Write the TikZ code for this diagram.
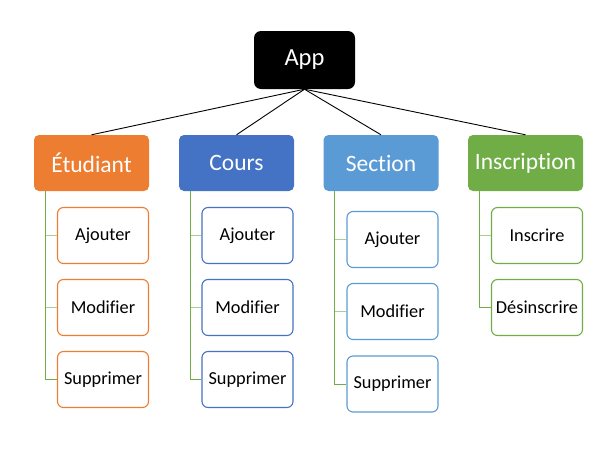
\documentclass[tikz,border=0pt]{standalone}
\usepackage{fontspec}
\setmainfont[Ligatures=NoCommon]{Carlito}
\usetikzlibrary{calc}
\definecolor{orangeC}{HTML}{ED7D31}
\definecolor{blueC}{HTML}{4472C4}
\definecolor{lblueC}{HTML}{5B9BD5}
\definecolor{greenC}{HTML}{70AD47}
\definecolor{lgreenC}{HTML}{A9D18E}
\tikzset{
  parentbox/.style={rounded corners=5pt, minimum width=115pt, minimum height=56pt, inner sep=0pt, text=white, font=\fontsize{23.5}{27}\selectfont},
  childbox/.style={rounded corners=6pt, fill=white, line width=1.1pt, minimum width=91pt, minimum height=56pt, inner sep=0pt, text=black, font=\fontsize{18.3}{22}\selectfont},
  topline/.style={draw=black, line width=0.9pt},
  vline/.style={draw=greenC, line width=1pt},
  tick/.style={draw=lgreenC, line width=1pt}
}
\begin{document}
\begin{tikzpicture}[x=1pt,y=-1pt]
\useasboundingbox (0,0) rectangle (608,448);
% root
\node[parentbox, fill=black, minimum width=101pt, minimum height=58pt, rounded corners=7pt, font=\fontsize{24.5}{28}\selectfont] (app) at (304.5,60) {App};
% parents
\node[parentbox, fill=orangeC] (etu) at (91.5,163) {Étudiant};
\node[parentbox, fill=blueC] (cou) at (236.5,163) {Cours};
\node[parentbox, fill=lblueC] (sec) at (381,163) {Section};
\node[parentbox, fill=greenC] (ins) at (525.5,163) {Inscription};
% connectors from root
\foreach \p in {etu,cou,sec,ins} \draw[topline] (app.south) -- (\p.north);
% children Etudiant
\node[childbox, draw=orangeC] (etu1) at (103,235.5) {Ajouter};
\node[childbox, draw=orangeC] (etu2) at (103,307.5) {Modifier};
\node[childbox, draw=orangeC] (etu3) at (103,379.5) {Supprimer};
% children Cours
\node[childbox, draw=blueC] (cou1) at (247.5,235.5) {Ajouter};
\node[childbox, draw=blueC] (cou2) at (247.5,307.5) {Modifier};
\node[childbox, draw=blueC] (cou3) at (247.5,379.5) {Supprimer};
% children Section
\node[childbox, draw=lblueC] (sec1) at (392.5,239.5) {Ajouter};
\node[childbox, draw=lblueC] (sec2) at (392.5,311.5) {Modifier};
\node[childbox, draw=lblueC] (sec3) at (392.5,384) {Supprimer};
% children Inscription
\node[childbox, draw=greenC] (ins1) at (537,235.5) {Inscrire};
\node[childbox, draw=greenC] (ins2) at (537,307.5) {Désinscrire};
% side connectors
\coordinate (etuL) at ($(etu.south west)+(11.5,0)$);
\coordinate (couL) at ($(cou.south west)+(11.5,0)$);
\coordinate (secL) at ($(sec.south west)+(11.5,0)$);
\coordinate (insL) at ($(ins.south west)+(12,0)$);
\foreach \p in {etu,cou,sec} {
  \draw[tick] (\p L |- \p1.west) -- (\p1.west);
  \draw[tick] (\p L |- \p2.west) -- (\p2.west);
  \draw[vline] (\p L) |- (\p3.west);
}
\draw[tick] (insL |- ins1.west) -- (ins1.west);
\draw[vline] (insL) |- (ins2.west);
\end{tikzpicture}
\end{document}
